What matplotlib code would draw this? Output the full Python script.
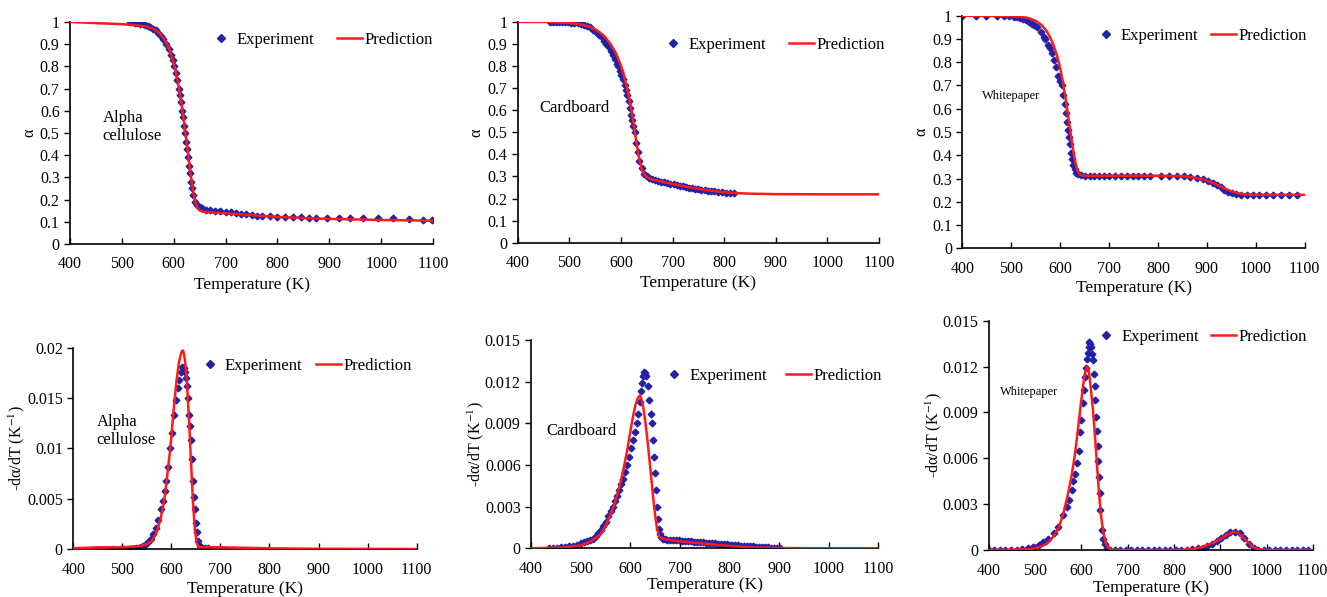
import matplotlib
matplotlib.use("Agg")
import matplotlib.pyplot as plt
from matplotlib.ticker import FixedLocator

plt.rcParams['font.family'] = ['Liberation Serif', 'DejaVu Serif']
plt.rcParams['mathtext.fontset'] = 'stix'

EXP_COLOR = '#2222A6'
PRED_COLOR = '#FF1A1A'

# ---------------- Alpha cellulose (TG) ----------------
ac_tg_exp_T = [515, 520, 525, 530, 535, 540, 545, 550, 555, 560, 565, 570, 575, 580, 585,
               590, 595, 598, 601, 604, 607, 610, 612, 614, 616, 618, 620, 622, 624, 626,
               628, 630, 632, 634, 636, 638, 641, 645, 650, 655, 662, 670, 680, 690, 700,
               710, 720, 730, 740, 750, 760, 770, 785, 800, 815, 830, 845, 860, 875, 895,
               918, 940, 965, 993, 1022, 1053, 1080, 1098]
ac_tg_exp_a = [1.0, 0.999, 0.997, 0.995, 0.993, 0.99, 0.986, 0.982, 0.977, 0.97, 0.962, 0.952,
               0.938, 0.922, 0.902, 0.878, 0.85, 0.83, 0.80, 0.77, 0.74, 0.70, 0.67, 0.64,
               0.60, 0.57, 0.53, 0.50, 0.46, 0.43, 0.39, 0.35, 0.32, 0.28, 0.25, 0.22, 0.19,
               0.175, 0.165, 0.16, 0.155, 0.152, 0.15, 0.148, 0.145, 0.143, 0.14, 0.137,
               0.135, 0.13, 0.128, 0.127, 0.125, 0.123, 0.12, 0.12, 0.12, 0.118, 0.118, 0.115,
               0.115, 0.115, 0.115, 0.115, 0.115, 0.112, 0.108, 0.11]
ac_tg_pred_T = [400, 450, 500, 530, 550, 560, 570, 578, 585, 592, 598, 603, 608, 613, 618,
                622, 626, 630, 634, 638, 642, 646, 650, 655, 660, 680, 700, 750, 800, 850,
                900, 1000, 1100]
ac_tg_pred_a = [1.0, 0.995, 0.99, 0.985, 0.978, 0.97, 0.955, 0.935, 0.91, 0.875, 0.83, 0.785,
                0.73, 0.66, 0.58, 0.51, 0.44, 0.36, 0.29, 0.228, 0.185, 0.162, 0.151, 0.146,
                0.144, 0.141, 0.138, 0.13, 0.122, 0.117, 0.113, 0.108, 0.105]

# ---------------- Cardboard (TG) ----------------
cb_tg_exp_T = [462, 468, 474, 480, 486, 492, 498, 504, 510, 516, 522, 528, 534, 540, 546,
               553, 558, 563, 568, 572, 576, 580, 584, 588, 592, 595, 598, 601, 604, 607,
               610, 612, 615, 618, 620, 622, 624, 627, 630, 633, 636, 640, 645, 650, 655,
               660, 666, 672, 678, 684, 690, 696, 702, 708, 714, 720, 726, 732, 738, 744,
               750, 756, 762, 768, 774, 780, 788, 796, 804, 812, 820]
cb_tg_exp_a = [1.0, 1.0, 1.0, 1.0, 0.999, 0.999, 0.998, 0.997, 0.996, 0.994, 0.991, 0.987,
               0.982, 0.975, 0.965, 0.95, 0.94, 0.93, 0.915, 0.9, 0.885, 0.87, 0.85, 0.83,
               0.81, 0.80, 0.78, 0.76, 0.74, 0.715, 0.69, 0.67, 0.64, 0.61, 0.58, 0.555,
               0.53, 0.5, 0.45, 0.41, 0.37, 0.34, 0.31, 0.30, 0.295, 0.29, 0.285, 0.28,
               0.277, 0.274, 0.27, 0.267, 0.264, 0.262, 0.259, 0.256, 0.253, 0.25, 0.247,
               0.245, 0.243, 0.24, 0.238, 0.236, 0.234, 0.232, 0.23, 0.228, 0.226, 0.225,
               0.224]
cb_tg_pred_T = [400, 460, 500, 520, 540, 555, 568, 580, 590, 598, 605, 611, 616, 621, 625,
                629, 633, 637, 641, 645, 650, 655, 660, 680, 700, 730, 760, 790, 820, 850,
                900, 1000, 1100]
cb_tg_pred_a = [1.0, 1.0, 0.995, 0.99, 0.978, 0.96, 0.935, 0.9, 0.86, 0.815, 0.765, 0.71,
                0.655, 0.595, 0.535, 0.47, 0.41, 0.365, 0.33, 0.31, 0.298, 0.292, 0.287,
                0.276, 0.266, 0.252, 0.24, 0.231, 0.225, 0.222, 0.22, 0.219, 0.219]

# ---------------- Whitepaper (TG) ----------------
wp_tg_exp_T = [400, 428, 448, 470, 485, 495, 505, 512, 518, 524, 530, 536, 542, 547, 552,
               560, 566, 570, 575, 580, 584, 588, 592, 596, 600, 603, 606, 609, 612, 615,
               617, 619, 621, 623, 625, 627, 630, 633, 637, 642, 650, 660, 670, 680, 690,
               700, 712, 724, 736, 748, 760, 772, 784, 806, 822, 838, 854, 866, 880, 892,
               902, 912, 920, 928, 936, 944, 952, 960, 970, 982, 994, 1006, 1020, 1036,
               1052, 1068, 1085]
wp_tg_exp_a = [1.0, 1.0, 1.0, 0.998, 0.998, 0.998, 0.995, 0.993, 0.99, 0.987, 0.98, 0.975,
               0.965, 0.96, 0.95, 0.93, 0.91, 0.9, 0.875, 0.86, 0.84, 0.81, 0.78, 0.74,
               0.72, 0.70, 0.66, 0.62, 0.58, 0.545, 0.51, 0.48, 0.45, 0.41, 0.385, 0.36,
               0.34, 0.325, 0.318, 0.313, 0.312, 0.312, 0.312, 0.312, 0.312, 0.312, 0.312,
               0.312, 0.312, 0.312, 0.312, 0.312, 0.312, 0.312, 0.312, 0.312, 0.31, 0.307,
               0.303, 0.298, 0.29, 0.28, 0.272, 0.262, 0.252, 0.244, 0.238, 0.233, 0.231,
               0.23, 0.23, 0.23, 0.229, 0.228, 0.228, 0.228, 0.228]
wp_tg_pred_T = [400, 500, 520, 535, 550, 562, 572, 580, 587, 594, 600, 606, 611, 616, 621,
                626, 631, 636, 641, 646, 652, 700, 800, 850, 870, 890, 905, 920, 935, 950,
                965, 980, 1000, 1100]
wp_tg_pred_a = [1.0, 0.998, 0.995, 0.99, 0.978, 0.96, 0.935, 0.905, 0.87, 0.825, 0.775,
                0.71, 0.645, 0.575, 0.5, 0.43, 0.37, 0.33, 0.316, 0.313, 0.312, 0.312,
                0.312, 0.31, 0.305, 0.297, 0.287, 0.274, 0.258, 0.245, 0.236, 0.231, 0.23,
                0.23]

# ---------------- Alpha cellulose (DTG) ----------------
ac_dtg_exp_T = [475, 482, 490, 497, 503, 510, 516, 522, 528, 533, 538, 543, 548, 553, 558,
                563, 568, 573, 578, 582, 586, 590, 594, 598, 602, 606, 610, 613, 616, 619,
                622, 625, 628, 630, 632, 634, 636, 638, 640, 642, 644, 646, 648, 650, 652,
                655, 658, 662, 668, 675]
ac_dtg_exp_v = [-0.0001, 0.0, -0.0001, 0.0, 0.0, -0.0001, 0.0, 0.0, 0.0001, 0.0001, 0.0002,
                0.0003, 0.0005, 0.0007, 0.001, 0.0015, 0.0021, 0.0029, 0.004, 0.0048, 0.0058,
                0.0068, 0.0082, 0.01, 0.0115, 0.0133, 0.0148, 0.016, 0.0168, 0.0176, 0.0181,
                0.018, 0.0176, 0.017, 0.0162, 0.015, 0.0133, 0.0122, 0.0108, 0.009, 0.0068,
                0.0052, 0.004, 0.0026, 0.0017, 0.0008, 0.0003, 0.0001, 0.0001, 0.0001]
ac_dtg_pred_T = [400, 450, 500, 530, 550, 560, 570, 578, 586, 592, 598, 604, 610, 615, 619,
                 622, 624, 626, 629, 632, 636, 640, 644, 648, 652, 656, 660, 700, 800, 900,
                 1100]
ac_dtg_pred_v = [0.0001, 0.0002, 0.0002, 0.0003, 0.0005, 0.0008, 0.0017, 0.003, 0.005,
                 0.0075, 0.0101, 0.0135, 0.0165, 0.0184, 0.0193, 0.0197, 0.0197, 0.0193,
                 0.0182, 0.0163, 0.0128, 0.0087, 0.0047, 0.0019, 0.0006, 0.0002, 0.0002,
                 0.0002, 0.0001, 0.00005, 0.00003]

# ---------------- Cardboard (DTG) ----------------
cb_dtg_exp_T = [437, 445, 453, 461, 469, 477, 485, 493, 500, 507, 513, 519, 525, 530, 535,
                540, 546, 551, 556, 561, 565, 569, 573, 577, 581, 585, 589, 593, 597, 601,
                605, 609, 613, 616, 619, 622, 624, 626, 628, 630, 632, 635, 638, 641, 643,
                645, 647, 649, 651, 653, 655, 657, 659, 662, 665, 669, 674, 680, 686, 692,
                698, 704, 710, 716, 722, 728, 734, 740, 746, 752, 758, 764, 770, 776, 782,
                788, 794, 800, 806, 812, 818, 824, 830, 836, 842, 848, 854, 860, 866, 872,
                878, 884, 890, 896, 902]
cb_dtg_exp_v = [0.0, 0.0, 0.00003, 0.00006, 0.0001, 0.00015, 0.0002, 0.00027, 0.00035,
                0.00043, 0.0005, 0.00058, 0.0007, 0.0009, 0.0011, 0.0013, 0.0016, 0.0019,
                0.0023, 0.0027, 0.003, 0.0034, 0.0038, 0.0042, 0.0046, 0.005, 0.0055,
                0.006, 0.0066, 0.0072, 0.0078, 0.0084, 0.009, 0.0097, 0.0105, 0.0113,
                0.0119, 0.0124, 0.0127, 0.0126, 0.0124, 0.0117, 0.0107, 0.0097, 0.009,
                0.0078, 0.0066, 0.0054, 0.0042, 0.003, 0.0021, 0.0014, 0.001, 0.0008,
                0.0007, 0.00065, 0.0006, 0.0006, 0.0006, 0.0006, 0.00058, 0.00056,
                0.00054, 0.00052, 0.0005, 0.00048, 0.00046, 0.00045, 0.00043, 0.00041,
                0.0004, 0.00038, 0.00036, 0.00034, 0.00032, 0.0003, 0.00028, 0.00027,
                0.00025, 0.00023, 0.00021, 0.0002, 0.00018, 0.00017, 0.00015, 0.00014,
                0.00012, 0.00011, 0.0001, 0.00008, 0.00007, 0.00005, 0.00004, 0.00003,
                0.00001]
cb_dtg_pred_T = [400, 460, 500, 520, 540, 550, 560, 570, 580, 588, 595, 601, 606, 611, 615,
                 619, 622, 626, 630, 634, 638, 642, 646, 650, 654, 658, 664, 680, 700, 730,
                 760, 790, 820, 850, 900, 1000, 1100]
cb_dtg_pred_v = [0.0, 0.00005, 0.0002, 0.0005, 0.001, 0.0016, 0.0024, 0.0034, 0.0047,
                 0.006, 0.0073, 0.0086, 0.0096, 0.0104, 0.0108, 0.011, 0.0108, 0.0102,
                 0.0092, 0.008, 0.0066, 0.0052, 0.0037, 0.0024, 0.0014, 0.0009, 0.0007,
                 0.0006, 0.0005, 0.0004, 0.0003, 0.0002, 0.00012, 0.00006, 0.00002, 0.0,
                 0.0]

# ---------------- Whitepaper (DTG) ----------------
wp_dtg_exp_T = [400, 412, 424, 436, 448, 460, 472, 484, 496, 508, 518, 528, 540, 550, 561,
                568, 574, 579, 583, 587, 590, 594, 597, 600, 603, 606, 608, 610, 612, 614,
                616, 617.5, 619, 621, 623, 625, 627, 628.5, 630, 632, 633.5, 635, 636.5,
                638, 639.5, 641, 644, 647, 651, 656, 662, 672, 684, 696, 708, 720, 732,
                744, 756, 768, 780, 792, 804, 816, 828, 840, 852, 862, 872, 882, 892, 902,
                912, 922, 932, 942, 952, 962, 972, 982, 994, 1006, 1018, 1030, 1042, 1054,
                1066, 1078, 1090]
wp_dtg_exp_v = [0.0, 0.0, 0.0, 0.0, 0.0, 0.0, 0.00005, 0.0001, 0.0002, 0.0003, 0.0005,
                0.0007, 0.0011, 0.0015, 0.0023, 0.0028, 0.0033, 0.0039, 0.0045, 0.005,
                0.0057, 0.0065, 0.0077, 0.0085, 0.0096, 0.0105, 0.0113, 0.0119, 0.0125,
                0.0129, 0.0133, 0.0136, 0.0135, 0.0133, 0.0128, 0.0124, 0.0115, 0.0107,
                0.0098, 0.0087, 0.0078, 0.0068, 0.0058, 0.0048, 0.0037, 0.0026, 0.0013,
                0.0007, 0.0004, 0.0001, 0.0, 0.0, 0.0, 0.0, 0.0, 0.0, 0.0, 0.0, 0.0, 0.0,
                0.0, 0.0, 0.0, 0.0, 0.00002, 0.00005, 0.0001, 0.00015, 0.00025, 0.0004,
                0.0006, 0.0008, 0.001, 0.00115, 0.0012, 0.0011, 0.0008, 0.0004, 0.0001,
                0.0, 0.0, 0.0, 0.0, 0.0, 0.0, 0.0, 0.0, 0.0, 0.0]
wp_dtg_pred_T = [400, 490, 510, 525, 540, 552, 562, 570, 578, 585, 590, 595, 600, 604, 608,
                 611, 613, 616, 619, 622, 625, 628, 631, 634, 637, 640, 644, 648, 652, 657,
                 665, 800, 840, 860, 880, 900, 915, 930, 940, 950, 960, 970, 980, 1000,
                 1100]
wp_dtg_pred_v = [0.0, 0.00005, 0.0002, 0.0004, 0.0009, 0.0015, 0.0025, 0.0035, 0.0047,
                 0.006, 0.0072, 0.0085, 0.0098, 0.0108, 0.0116, 0.0119, 0.012, 0.0117,
                 0.011, 0.0101, 0.0092, 0.0081, 0.0068, 0.0055, 0.0042, 0.0031, 0.0019,
                 0.0011, 0.0005, 0.0002, 0.0, 0.0, 0.00005, 0.0002, 0.0004, 0.0007, 0.001,
                 0.0012, 0.0011, 0.0008, 0.0005, 0.0002, 0.00005, 0.0, 0.0]

x_ticks = [400, 500, 600, 700, 800, 900, 1000, 1100]
tg_yticks = [0, 0.1, 0.2, 0.3, 0.4, 0.5, 0.6, 0.7, 0.8, 0.9, 1]
tg_ytick_labels = ['0', '0.1', '0.2', '0.3', '0.4', '0.5', '0.6', '0.7', '0.8', '0.9', '1']
ac_dtg_yticks = [0, 0.005, 0.01, 0.015, 0.02]
ac_dtg_ylabels = ['0', '0.005', '0.01', '0.015', '0.02']
dtg_yticks = [0, 0.003, 0.006, 0.009, 0.012, 0.015]
dtg_ylabels = ['0', '0.003', '0.006', '0.009', '0.012', '0.015']

fig = plt.figure(figsize=(13.27, 5.97), dpi=100)

panels = [
    dict(rect=[0.0528, 0.5913, 0.2735, 0.3719], eT=ac_tg_exp_T, ev=ac_tg_exp_a,
         pT=ac_tg_pred_T, pv=ac_tg_pred_a, ylim=(0, 1), yt=tg_yticks, ytl=tg_ytick_labels,
         ylabel='α', text='Alpha\ncellulose', tpos=(463, 0.527), tsize=12,
         leg=(1.018, 0.92), cs=1.4, ylp=2, xlp=3),
    dict(rect=[0.3901, 0.5935, 0.2723, 0.3697], eT=cb_tg_exp_T, ev=cb_tg_exp_a,
         pT=cb_tg_pred_T, pv=cb_tg_pred_a, ylim=(0, 1), yt=tg_yticks, ytl=tg_ytick_labels,
         ylabel='α', text='Cardboard', tpos=(443, 0.61), tsize=12,
         leg=(1.035, 0.896), cs=1.4, ylp=2, xlp=3),
    dict(rect=[0.7252, 0.5841, 0.2580, 0.3896], eT=wp_tg_exp_T, ev=wp_tg_exp_a,
         pT=wp_tg_pred_T, pv=wp_tg_pred_a, ylim=(0, 1), yt=tg_yticks, ytl=tg_ytick_labels,
         ylabel='α', text='Whitepaper', tpos=(440, 0.655), tsize=9,
         leg=(1.026, 0.913), cs=0.75, ylp=2, xlp=2),
    dict(rect=[0.0552, 0.0799, 0.2588, 0.3377], eT=ac_dtg_exp_T, ev=ac_dtg_exp_v,
         pT=ac_dtg_pred_T, pv=ac_dtg_pred_v, ylim=(0, 0.02), yt=ac_dtg_yticks,
         ytl=ac_dtg_ylabels, ylabel='-dα/dT (K$^{-1}$)', text='Alpha\ncellulose',
         tpos=(448, 0.01174), tsize=12, leg=(1.005, 0.909), cs=0.8, ylp=0, xlp=2),
    dict(rect=[0.4002, 0.0816, 0.2617, 0.3489], eT=cb_dtg_exp_T, ev=cb_dtg_exp_v,
         pT=cb_dtg_pred_T, pv=cb_dtg_pred_v, ylim=(0, 0.015), yt=dtg_yticks,
         ytl=dtg_ylabels, ylabel='-dα/dT (K$^{-1}$)', text='Cardboard',
         tpos=(430, 0.00845), tsize=12, leg=(1.029, 0.827), cs=1.15, ylp=-1, xlp=0),
    dict(rect=[0.7451, 0.0787, 0.2442, 0.3841], eT=wp_dtg_exp_T, ev=wp_dtg_exp_v,
         pT=wp_dtg_pred_T, pv=wp_dtg_pred_v, ylim=(0, 0.015), yt=dtg_yticks,
         ytl=dtg_ylabels, ylabel='-dα/dT (K$^{-1}$)', text='Whitepaper',
         tpos=(424, 0.01034), tsize=9, leg=(1.003, 0.929), cs=0.75, ylp=-1, xlp=1),
]

for p in panels:
    ax = fig.add_axes(p['rect'])
    ax.plot(p['eT'], p['ev'], linestyle='none', marker='D', markersize=3.4,
            color=EXP_COLOR, label='Experiment', zorder=2)
    ax.plot(p['pT'], p['pv'], color=PRED_COLOR, linewidth=1.8, label='Prediction', zorder=3)
    ax.set_xlim(400, 1100)
    ax.set_ylim(*p['ylim'])
    ax.xaxis.set_major_locator(FixedLocator(x_ticks))
    ax.set_yticks(p['yt'])
    ax.set_yticklabels(p['ytl'])
    ax.spines['top'].set_visible(False)
    ax.spines['right'].set_visible(False)
    for s in ('left', 'bottom'):
        ax.spines[s].set_linewidth(1.2)
    ax.tick_params(axis='x', direction='in', length=4, width=1.0, labelsize=11.5, pad=9)
    ax.tick_params(axis='y', direction='out', length=4, width=1.0, labelsize=11.5)
    ax.set_xlabel('Temperature (K)', fontsize=12.5, labelpad=p['xlp'])
    ax.set_ylabel(p['ylabel'], fontsize=11.5, labelpad=p['ylp'])
    ax.text(p['tpos'][0], p['tpos'][1], p['text'], fontsize=p['tsize'],
            ha='left', va='center', linespacing=1.2)
    ax.legend(loc='center right', bbox_to_anchor=p['leg'], ncol=2, frameon=False,
              fontsize=12, handlelength=1.5, handletextpad=0.15, columnspacing=p['cs'],
              borderaxespad=0, markerscale=1.1)

fig.savefig('out.png', dpi=100)
